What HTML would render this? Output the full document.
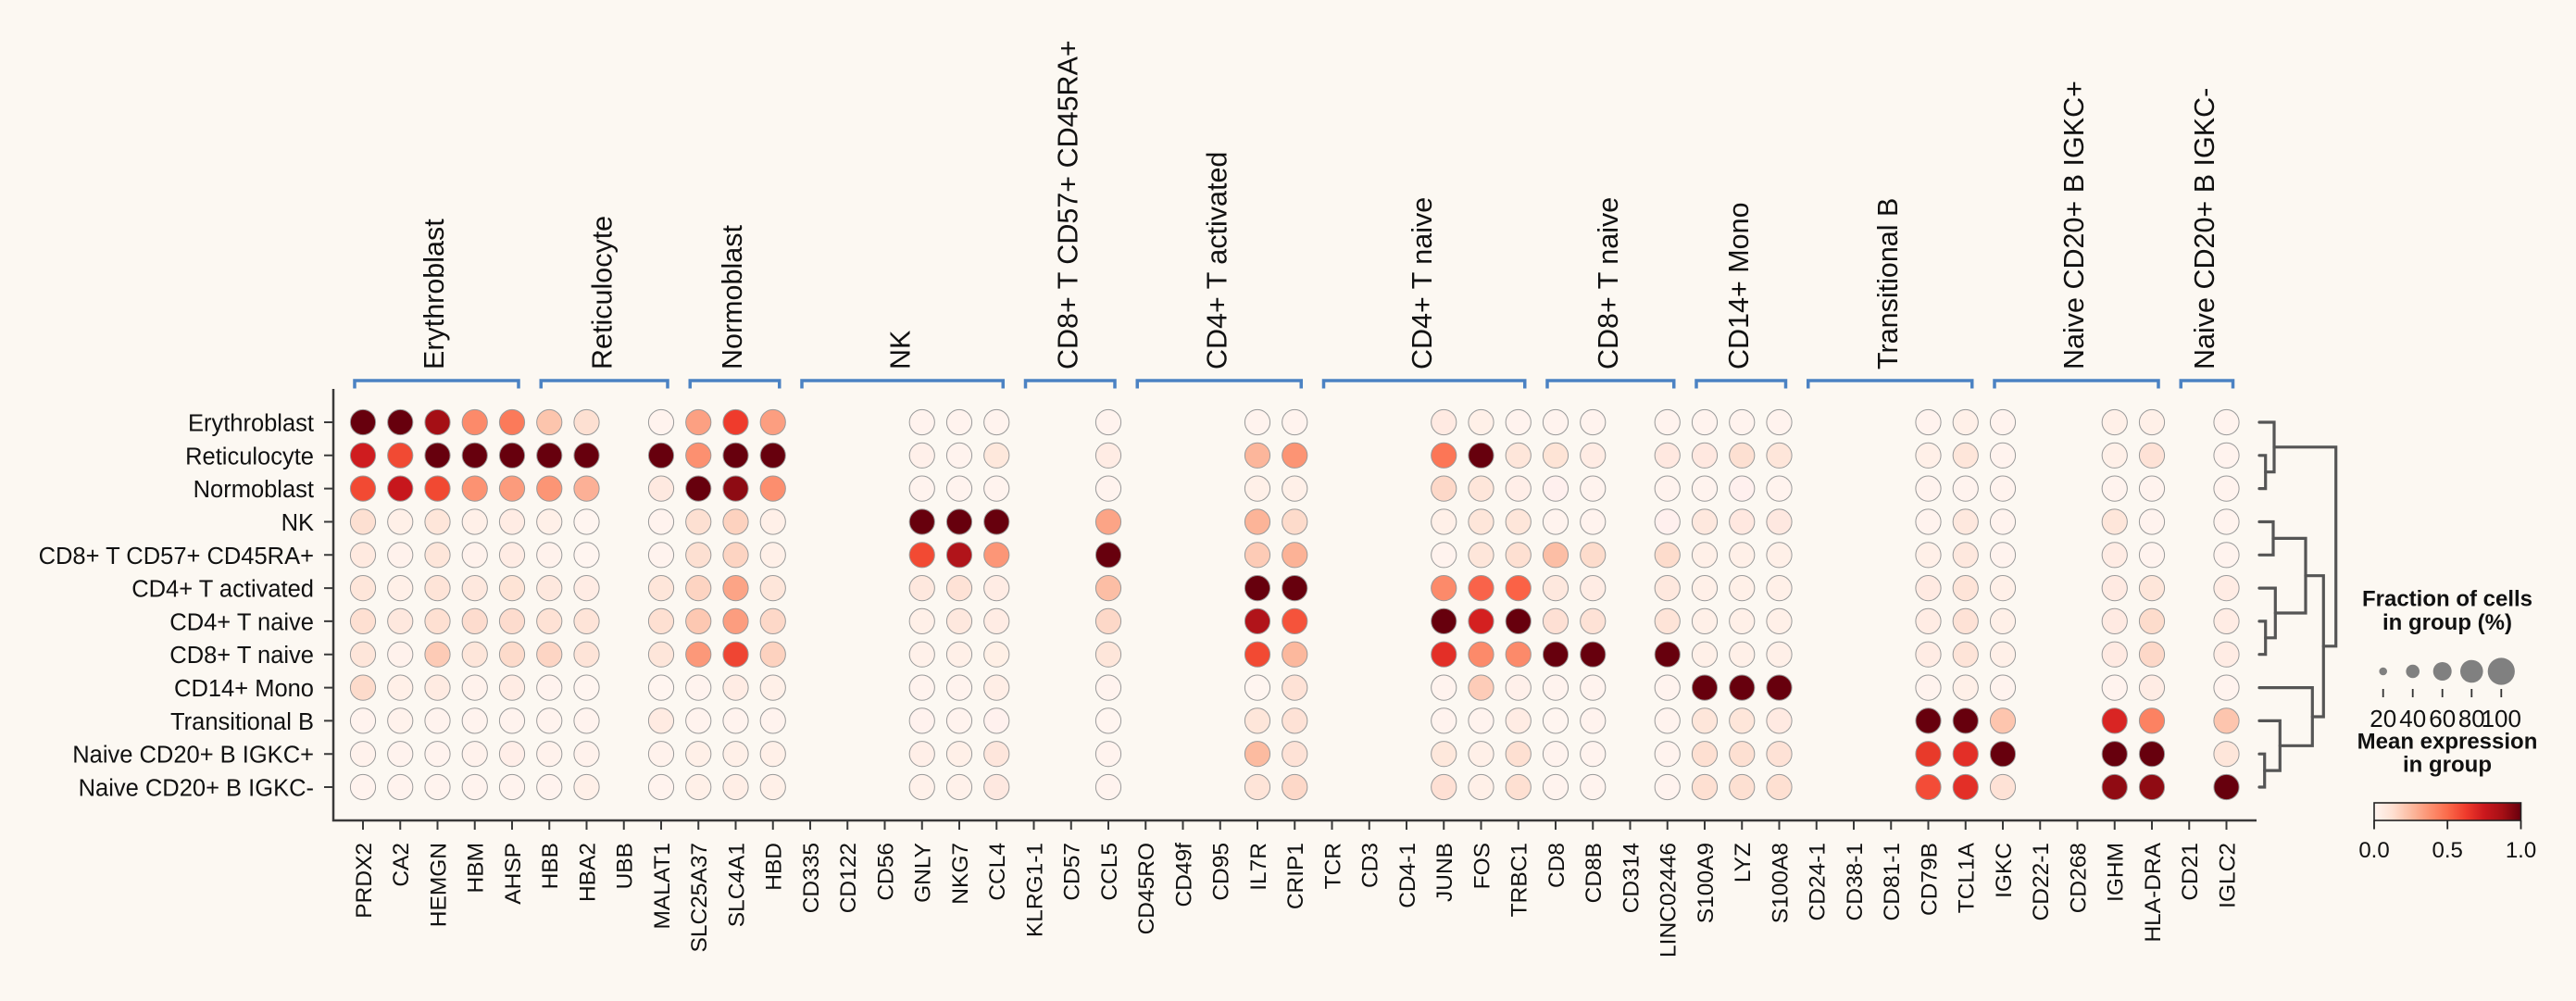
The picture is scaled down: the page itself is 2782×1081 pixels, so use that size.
<!DOCTYPE html>
<html><head><meta charset="utf-8"><style>
html,body{margin:0;padding:0;background:#fcf8f2;}
svg{display:block;font-family:"Liberation Sans",Arial,sans-serif;}
.m circle{stroke:#9a9a9a;stroke-width:1;}
.gl{font-size:24.5px;fill:#111;}
.rl{font-size:25.5px;fill:#111;}
.grp{font-size:30.5px;fill:#111;}
.br{fill:none;stroke:#4b82c3;stroke-width:3.5;}
.dn{fill:none;stroke:#555;stroke-width:3.2;stroke-linecap:round;}
</style></head><body>
<svg width="2782" height="1081" viewBox="0 0 2782 1081" xmlns="http://www.w3.org/2000/svg">
<rect width="2782" height="1081" fill="#fcf8f2"/>
<defs><linearGradient id="reds" x1="0" x2="1" y1="0" y2="0">
<stop offset="0" stop-color="#fff5f0"/><stop offset="0.125" stop-color="#fee0d2"/><stop offset="0.25" stop-color="#fcbba1"/><stop offset="0.375" stop-color="#fc9272"/><stop offset="0.5" stop-color="#fb6a4a"/><stop offset="0.625" stop-color="#ef3b2c"/><stop offset="0.75" stop-color="#cb181d"/><stop offset="0.875" stop-color="#a50f15"/><stop offset="1" stop-color="#67000d"/>
</linearGradient></defs>

<!-- group brackets -->
<g class="br">
<path d="M383 419.5V411H560V419.5"/>
<path d="M584.25 419.5V411H721V419.5"/>
<path d="M745.25 419.5V411H841.75V419.5"/>
<path d="M866 419.5V411H1083.25V419.5"/>
<path d="M1107.5 419.5V411H1204V419.5"/>
<path d="M1228.25 419.5V411H1405.25V419.5"/>
<path d="M1429.5 419.5V411H1646.75V419.5"/>
<path d="M1671 419.5V411H1807.75V419.5"/>
<path d="M1832 419.5V411H1928.5V419.5"/>
<path d="M1952.75 419.5V411H2129.75V419.5"/>
<path d="M2154 419.5V411H2331V419.5"/>
<path d="M2355.25 419.5V411H2411.5V419.5"/>
</g>
<!-- group labels -->
<g class="grp">
<text transform="translate(479.2,399) rotate(-90)">Erythroblast</text>
<text transform="translate(660.3,399) rotate(-90)">Reticulocyte</text>
<text transform="translate(801.2,399) rotate(-90)">Normoblast</text>
<text transform="translate(982.3,399) rotate(-90)">NK</text>
<text transform="translate(1163.5,399) rotate(-90)">CD8+ T CD57+ CD45RA+</text>
<text transform="translate(1324.5,399) rotate(-90)">CD4+ T activated</text>
<text transform="translate(1545.8,399) rotate(-90)">CD4+ T naive</text>
<text transform="translate(1747.1,399) rotate(-90)">CD8+ T naive</text>
<text transform="translate(1888,399) rotate(-90)">CD14+ Mono</text>
<text transform="translate(2049,399) rotate(-90)">Transitional B</text>
<text transform="translate(2250.2,399) rotate(-90)">Naive CD20+ B IGKC+</text>
<text transform="translate(2391.1,399) rotate(-90)">Naive CD20+ B IGKC-</text>
</g>

<!-- axes -->
<path d="M360 420V886H2437" fill="none" stroke="#3a3a3a" stroke-width="2.5"/>
<g stroke="#3a3a3a" stroke-width="2">
<path d="M350 456H360M350 491.8H360M350 527.6H360M350 563.5H360M350 599.3H360M350 635.1H360M350 670.9H360M350 706.7H360M350 742.6H360M350 778.4H360M350 814.2H360M350 850H360"/>
<path d="M392 886v10M432.25 886v10M472.5 886v10M512.75 886v10M553 886v10M593.25 886v10M633.5 886v10M673.75 886v10M714 886v10M754.25 886v10M794.5 886v10M834.75 886v10M875 886v10M915.25 886v10M955.5 886v10M995.75 886v10M1036 886v10M1076.25 886v10M1116.5 886v10M1156.75 886v10M1197 886v10M1237.25 886v10M1277.5 886v10M1317.75 886v10M1358 886v10M1398.25 886v10M1438.5 886v10M1478.75 886v10M1519 886v10M1559.25 886v10M1599.5 886v10M1639.75 886v10M1680 886v10M1720.25 886v10M1760.5 886v10M1800.75 886v10M1841 886v10M1881.25 886v10M1921.5 886v10M1961.75 886v10M2002 886v10M2042.25 886v10M2082.5 886v10M2122.75 886v10M2163 886v10M2203.25 886v10M2243.5 886v10M2283.75 886v10M2324 886v10M2364.25 886v10M2404.5 886v10"/>
</g>

<!-- row labels -->
<g class="rl" text-anchor="end">
<text x="339" y="465.5">Erythroblast</text>
<text x="339" y="501.3">Reticulocyte</text>
<text x="339" y="537.1">Normoblast</text>
<text x="339" y="573">NK</text>
<text x="339" y="608.8">CD8+ T CD57+ CD45RA+</text>
<text x="339" y="644.6">CD4+ T activated</text>
<text x="339" y="680.4">CD4+ T naive</text>
<text x="339" y="716.2">CD8+ T naive</text>
<text x="339" y="752.1">CD14+ Mono</text>
<text x="339" y="787.9">Transitional B</text>
<text x="339" y="823.7">Naive CD20+ B IGKC+</text>
<text x="339" y="859.5">Naive CD20+ B IGKC-</text>
</g>

<!-- gene labels -->
<g class="gl" text-anchor="end">
<text transform="translate(400.8,910) rotate(-90)">PRDX2</text>
<text transform="translate(441,910) rotate(-90)">CA2</text>
<text transform="translate(481.3,910) rotate(-90)">HEMGN</text>
<text transform="translate(521.5,910) rotate(-90)">HBM</text>
<text transform="translate(561.8,910) rotate(-90)">AHSP</text>
<text transform="translate(602,910) rotate(-90)">HBB</text>
<text transform="translate(642.3,910) rotate(-90)">HBA2</text>
<text transform="translate(682.5,910) rotate(-90)">UBB</text>
<text transform="translate(722.8,910) rotate(-90)">MALAT1</text>
<text transform="translate(763,910) rotate(-90)">SLC25A37</text>
<text transform="translate(803.3,910) rotate(-90)">SLC4A1</text>
<text transform="translate(843.5,910) rotate(-90)">HBD</text>
<text transform="translate(883.8,910) rotate(-90)">CD335</text>
<text transform="translate(924,910) rotate(-90)">CD122</text>
<text transform="translate(964.3,910) rotate(-90)">CD56</text>
<text transform="translate(1004.5,910) rotate(-90)">GNLY</text>
<text transform="translate(1044.8,910) rotate(-90)">NKG7</text>
<text transform="translate(1085,910) rotate(-90)">CCL4</text>
<text transform="translate(1125.3,910) rotate(-90)">KLRG1-1</text>
<text transform="translate(1165.5,910) rotate(-90)">CD57</text>
<text transform="translate(1205.8,910) rotate(-90)">CCL5</text>
<text transform="translate(1246,910) rotate(-90)">CD45RO</text>
<text transform="translate(1286.3,910) rotate(-90)">CD49f</text>
<text transform="translate(1326.5,910) rotate(-90)">CD95</text>
<text transform="translate(1366.8,910) rotate(-90)">IL7R</text>
<text transform="translate(1407,910) rotate(-90)">CRIP1</text>
<text transform="translate(1447.3,910) rotate(-90)">TCR</text>
<text transform="translate(1487.5,910) rotate(-90)">CD3</text>
<text transform="translate(1527.8,910) rotate(-90)">CD4-1</text>
<text transform="translate(1568,910) rotate(-90)">JUNB</text>
<text transform="translate(1608.3,910) rotate(-90)">FOS</text>
<text transform="translate(1648.5,910) rotate(-90)">TRBC1</text>
<text transform="translate(1688.8,910) rotate(-90)">CD8</text>
<text transform="translate(1729,910) rotate(-90)">CD8B</text>
<text transform="translate(1769.3,910) rotate(-90)">CD314</text>
<text transform="translate(1809.5,910) rotate(-90)">LINC02446</text>
<text transform="translate(1849.8,910) rotate(-90)">S100A9</text>
<text transform="translate(1890,910) rotate(-90)">LYZ</text>
<text transform="translate(1930.3,910) rotate(-90)">S100A8</text>
<text transform="translate(1970.5,910) rotate(-90)">CD24-1</text>
<text transform="translate(2010.8,910) rotate(-90)">CD38-1</text>
<text transform="translate(2051,910) rotate(-90)">CD81-1</text>
<text transform="translate(2091.3,910) rotate(-90)">CD79B</text>
<text transform="translate(2131.5,910) rotate(-90)">TCL1A</text>
<text transform="translate(2171.8,910) rotate(-90)">IGKC</text>
<text transform="translate(2212,910) rotate(-90)">CD22-1</text>
<text transform="translate(2252.3,910) rotate(-90)">CD268</text>
<text transform="translate(2292.5,910) rotate(-90)">IGHM</text>
<text transform="translate(2332.8,910) rotate(-90)">HLA-DRA</text>
<text transform="translate(2373,910) rotate(-90)">CD21</text>
<text transform="translate(2413.3,910) rotate(-90)">IGLC2</text>
</g>

<!-- dots -->
<g class="m">
<g transform="translate(392,0)"><circle cy="456" r="13.6" fill="#67000d"/><circle cy="491.8" r="13.6" fill="#cf1c1f"/><circle cy="527.6" r="13.6" fill="#f24a33"/><circle cy="563.5" r="13.6" fill="#fde0d2"/><circle cy="599.3" r="13.6" fill="#ffeae0"/><circle cy="635.1" r="13.6" fill="#fee6da"/><circle cy="670.9" r="13.6" fill="#fee0d2"/><circle cy="706.7" r="13.6" fill="#fee6da"/><circle cy="742.6" r="13.6" fill="#fddbcb"/><circle cy="778.4" r="13.6" fill="#fff3ee"/><circle cy="814.2" r="13.6" fill="#fff2ec"/><circle cy="850" r="13.6" fill="#fff3ee"/></g>
<g transform="translate(432.25,0)"><circle cy="456" r="13.6" fill="#67000d"/><circle cy="491.8" r="13.6" fill="#f14a33"/><circle cy="527.6" r="13.6" fill="#c7171c"/><circle cy="563.5" r="13.6" fill="#fff0e8"/><circle cy="599.3" r="13.6" fill="#fff2ec"/><circle cy="635.1" r="13.6" fill="#fff0e8"/><circle cy="670.9" r="13.6" fill="#fee8de"/><circle cy="706.7" r="13.6" fill="#fff2ec"/><circle cy="742.6" r="13.6" fill="#fff0e8"/><circle cy="778.4" r="13.6" fill="#fff2ec"/><circle cy="814.2" r="13.6" fill="#fff3ee"/><circle cy="850" r="13.6" fill="#fff3ee"/></g>
<g transform="translate(472.5,0)"><circle cy="456" r="13.6" fill="#a50f15"/><circle cy="491.8" r="13.6" fill="#67000d"/><circle cy="527.6" r="13.6" fill="#f14932"/><circle cy="563.5" r="13.6" fill="#fee6da"/><circle cy="599.3" r="13.6" fill="#fee6da"/><circle cy="635.1" r="13.6" fill="#fee4d8"/><circle cy="670.9" r="13.6" fill="#fee0d2"/><circle cy="706.7" r="13.6" fill="#fdcbb6"/><circle cy="742.6" r="13.6" fill="#ffebe2"/><circle cy="778.4" r="13.6" fill="#fff3ee"/><circle cy="814.2" r="13.6" fill="#fff3ee"/><circle cy="850" r="13.6" fill="#fff3ee"/></g>
<g transform="translate(512.75,0)"><circle cy="456" r="13.6" fill="#fc8a6a"/><circle cy="491.8" r="13.6" fill="#67000d"/><circle cy="527.6" r="13.6" fill="#fc9272"/><circle cy="563.5" r="13.6" fill="#fff0e8"/><circle cy="599.3" r="13.6" fill="#fff2ec"/><circle cy="635.1" r="13.6" fill="#fee8de"/><circle cy="670.9" r="13.6" fill="#fddcce"/><circle cy="706.7" r="13.6" fill="#fee6da"/><circle cy="742.6" r="13.6" fill="#fff2ec"/><circle cy="778.4" r="13.6" fill="#fff3ee"/><circle cy="814.2" r="13.6" fill="#fff2ec"/><circle cy="850" r="13.6" fill="#fff3ee"/></g>
<g transform="translate(553,0)"><circle cy="456" r="13.6" fill="#fb7a5a"/><circle cy="491.8" r="13.6" fill="#67000d"/><circle cy="527.6" r="13.6" fill="#fc9b7c"/><circle cy="563.5" r="13.6" fill="#ffece4"/><circle cy="599.3" r="13.6" fill="#ffece4"/><circle cy="635.1" r="13.6" fill="#fee4d6"/><circle cy="670.9" r="13.6" fill="#fddcce"/><circle cy="706.7" r="13.6" fill="#fddbcb"/><circle cy="742.6" r="13.6" fill="#ffece4"/><circle cy="778.4" r="13.6" fill="#fff3ee"/><circle cy="814.2" r="13.6" fill="#ffeee8"/><circle cy="850" r="13.6" fill="#fff3ee"/></g>
<g transform="translate(593.25,0)"><circle cy="456" r="13.6" fill="#fcc5ad"/><circle cy="491.8" r="13.6" fill="#67000d"/><circle cy="527.6" r="13.6" fill="#fc9575"/><circle cy="563.5" r="13.6" fill="#fff0e8"/><circle cy="599.3" r="13.6" fill="#fff2ec"/><circle cy="635.1" r="13.6" fill="#fee8de"/><circle cy="670.9" r="13.6" fill="#fee2d5"/><circle cy="706.7" r="13.6" fill="#fdd5c4"/><circle cy="742.6" r="13.6" fill="#fff3ee"/><circle cy="778.4" r="13.6" fill="#fff3ee"/><circle cy="814.2" r="13.6" fill="#fff2ec"/><circle cy="850" r="13.6" fill="#fff3ee"/></g>
<g transform="translate(633.5,0)"><circle cy="456" r="13.6" fill="#fde0d2"/><circle cy="491.8" r="13.6" fill="#67000d"/><circle cy="527.6" r="13.6" fill="#fcb096"/><circle cy="563.5" r="13.6" fill="#fff5f0"/><circle cy="599.3" r="13.6" fill="#fff5f0"/><circle cy="635.1" r="13.6" fill="#ffece4"/><circle cy="670.9" r="13.6" fill="#fee4d8"/><circle cy="706.7" r="13.6" fill="#fee4d8"/><circle cy="742.6" r="13.6" fill="#fff5f0"/><circle cy="778.4" r="13.6" fill="#fff3ee"/><circle cy="814.2" r="13.6" fill="#fff2ec"/><circle cy="850" r="13.6" fill="#fff0e8"/></g>
<g transform="translate(714,0)"><circle cy="456" r="13.6" fill="#fff3ee"/><circle cy="491.8" r="13.6" fill="#67000d"/><circle cy="527.6" r="13.6" fill="#fee9e0"/><circle cy="563.5" r="13.6" fill="#fff3ee"/><circle cy="599.3" r="13.6" fill="#fff3ee"/><circle cy="635.1" r="13.6" fill="#fee6da"/><circle cy="670.9" r="13.6" fill="#fee0d2"/><circle cy="706.7" r="13.6" fill="#fee6da"/><circle cy="742.6" r="13.6" fill="#fff5f0"/><circle cy="778.4" r="13.6" fill="#ffebe2"/><circle cy="814.2" r="13.6" fill="#fff2ec"/><circle cy="850" r="13.6" fill="#fff3ee"/></g>
<g transform="translate(754.25,0)"><circle cy="456" r="13.6" fill="#fca082"/><circle cy="491.8" r="13.6" fill="#fc9070"/><circle cy="527.6" r="13.6" fill="#67000d"/><circle cy="563.5" r="13.6" fill="#fde0d2"/><circle cy="599.3" r="13.6" fill="#fde0d2"/><circle cy="635.1" r="13.6" fill="#fdd4c2"/><circle cy="670.9" r="13.6" fill="#fdc8b2"/><circle cy="706.7" r="13.6" fill="#fc9879"/><circle cy="742.6" r="13.6" fill="#fff3ee"/><circle cy="778.4" r="13.6" fill="#fff3ee"/><circle cy="814.2" r="13.6" fill="#fff0e8"/><circle cy="850" r="13.6" fill="#fff0e8"/></g>
<g transform="translate(794.5,0)"><circle cy="456" r="13.6" fill="#ef3b2c"/><circle cy="491.8" r="13.6" fill="#67000d"/><circle cy="527.6" r="13.6" fill="#8e0b13"/><circle cy="563.5" r="13.6" fill="#fdd2bf"/><circle cy="599.3" r="13.6" fill="#fdd4c2"/><circle cy="635.1" r="13.6" fill="#fca486"/><circle cy="670.9" r="13.6" fill="#fc9d7f"/><circle cy="706.7" r="13.6" fill="#ef4533"/><circle cy="742.6" r="13.6" fill="#ffece4"/><circle cy="778.4" r="13.6" fill="#fff3ee"/><circle cy="814.2" r="13.6" fill="#fff0e8"/><circle cy="850" r="13.6" fill="#ffeee6"/></g>
<g transform="translate(834.75,0)"><circle cy="456" r="13.6" fill="#fc9e80"/><circle cy="491.8" r="13.6" fill="#67000d"/><circle cy="527.6" r="13.6" fill="#fc8e6e"/><circle cy="563.5" r="13.6" fill="#fff0e8"/><circle cy="599.3" r="13.6" fill="#fff0e8"/><circle cy="635.1" r="13.6" fill="#fee6da"/><circle cy="670.9" r="13.6" fill="#fdd8c8"/><circle cy="706.7" r="13.6" fill="#fdd2bf"/><circle cy="742.6" r="13.6" fill="#fff0e8"/><circle cy="778.4" r="13.6" fill="#fff3ee"/><circle cy="814.2" r="13.6" fill="#fff0e8"/><circle cy="850" r="13.6" fill="#fff0e8"/></g>
<g transform="translate(995.75,0)"><circle cy="456" r="13.6" fill="#fff3ee"/><circle cy="491.8" r="13.6" fill="#fff0ea"/><circle cy="527.6" r="13.6" fill="#fff3ee"/><circle cy="563.5" r="13.6" fill="#67000d"/><circle cy="599.3" r="13.6" fill="#f24a33"/><circle cy="635.1" r="13.6" fill="#fee8de"/><circle cy="670.9" r="13.6" fill="#fff0e8"/><circle cy="706.7" r="13.6" fill="#fff1ea"/><circle cy="742.6" r="13.6" fill="#fff3ee"/><circle cy="778.4" r="13.6" fill="#fff2ee"/><circle cy="814.2" r="13.6" fill="#ffefe8"/><circle cy="850" r="13.6" fill="#fff1ea"/></g>
<g transform="translate(1036,0)"><circle cy="456" r="13.6" fill="#fff3ee"/><circle cy="491.8" r="13.6" fill="#fff3ee"/><circle cy="527.6" r="13.6" fill="#fff3ee"/><circle cy="563.5" r="13.6" fill="#67000d"/><circle cy="599.3" r="13.6" fill="#b1141a"/><circle cy="635.1" r="13.6" fill="#fee2d6"/><circle cy="670.9" r="13.6" fill="#fee8de"/><circle cy="706.7" r="13.6" fill="#fff0e8"/><circle cy="742.6" r="13.6" fill="#fff3ee"/><circle cy="778.4" r="13.6" fill="#fff3ee"/><circle cy="814.2" r="13.6" fill="#fff0e8"/><circle cy="850" r="13.6" fill="#fff1ea"/></g>
<g transform="translate(1076.25,0)"><circle cy="456" r="13.6" fill="#fff3ee"/><circle cy="491.8" r="13.6" fill="#fee8dc"/><circle cy="527.6" r="13.6" fill="#fff3ee"/><circle cy="563.5" r="13.6" fill="#67000d"/><circle cy="599.3" r="13.6" fill="#fc9677"/><circle cy="635.1" r="13.6" fill="#ffece4"/><circle cy="670.9" r="13.6" fill="#ffece4"/><circle cy="706.7" r="13.6" fill="#fff0e6"/><circle cy="742.6" r="13.6" fill="#ffeee6"/><circle cy="778.4" r="13.6" fill="#fff1ee"/><circle cy="814.2" r="13.6" fill="#fee6dc"/><circle cy="850" r="13.6" fill="#fee8e0"/></g>
<g transform="translate(1197,0)"><circle cy="456" r="13.6" fill="#fff3ee"/><circle cy="491.8" r="13.6" fill="#ffece4"/><circle cy="527.6" r="13.6" fill="#fff3ee"/><circle cy="563.5" r="13.6" fill="#fca486"/><circle cy="599.3" r="13.6" fill="#67000d"/><circle cy="635.1" r="13.6" fill="#fcbea5"/><circle cy="670.9" r="13.6" fill="#fdd8c8"/><circle cy="706.7" r="13.6" fill="#fee6da"/><circle cy="742.6" r="13.6" fill="#fff3ee"/><circle cy="778.4" r="13.6" fill="#fff5f0"/><circle cy="814.2" r="13.6" fill="#fff3ee"/><circle cy="850" r="13.6" fill="#fff3ee"/></g>
<g transform="translate(1358,0)"><circle cy="456" r="13.6" fill="#fff3ee"/><circle cy="491.8" r="13.6" fill="#fcb69b"/><circle cy="527.6" r="13.6" fill="#fff0e8"/><circle cy="563.5" r="13.6" fill="#fcb498"/><circle cy="599.3" r="13.6" fill="#fdcbb6"/><circle cy="635.1" r="13.6" fill="#67000d"/><circle cy="670.9" r="13.6" fill="#b1141a"/><circle cy="706.7" r="13.6" fill="#f24a33"/><circle cy="742.6" r="13.6" fill="#fff5f0"/><circle cy="778.4" r="13.6" fill="#fee6da"/><circle cy="814.2" r="13.6" fill="#fcbba0"/><circle cy="850" r="13.6" fill="#fee4d8"/></g>
<g transform="translate(1398.25,0)"><circle cy="456" r="13.6" fill="#fff3ee"/><circle cy="491.8" r="13.6" fill="#fc9474"/><circle cy="527.6" r="13.6" fill="#fff0e8"/><circle cy="563.5" r="13.6" fill="#fddbcb"/><circle cy="599.3" r="13.6" fill="#fcb296"/><circle cy="635.1" r="13.6" fill="#67000d"/><circle cy="670.9" r="13.6" fill="#f5533b"/><circle cy="706.7" r="13.6" fill="#fcb89d"/><circle cy="742.6" r="13.6" fill="#fee2d6"/><circle cy="778.4" r="13.6" fill="#fee2d6"/><circle cy="814.2" r="13.6" fill="#fee2d6"/><circle cy="850" r="13.6" fill="#fdd8c8"/></g>
<g transform="translate(1559.25,0)"><circle cy="456" r="13.6" fill="#ffeae2"/><circle cy="491.8" r="13.6" fill="#fc7656"/><circle cy="527.6" r="13.6" fill="#fdd8c8"/><circle cy="563.5" r="13.6" fill="#fff0e8"/><circle cy="599.3" r="13.6" fill="#fff3ee"/><circle cy="635.1" r="13.6" fill="#fc8a6a"/><circle cy="670.9" r="13.6" fill="#67000d"/><circle cy="706.7" r="13.6" fill="#e32f27"/><circle cy="742.6" r="13.6" fill="#fff3ee"/><circle cy="778.4" r="13.6" fill="#fff3ee"/><circle cy="814.2" r="13.6" fill="#fee8dc"/><circle cy="850" r="13.6" fill="#fee0d4"/></g>
<g transform="translate(1599.5,0)"><circle cy="456" r="13.6" fill="#fff0e8"/><circle cy="491.8" r="13.6" fill="#67000d"/><circle cy="527.6" r="13.6" fill="#fee6da"/><circle cy="563.5" r="13.6" fill="#fee6da"/><circle cy="599.3" r="13.6" fill="#fee6da"/><circle cy="635.1" r="13.6" fill="#f9634a"/><circle cy="670.9" r="13.6" fill="#d42020"/><circle cy="706.7" r="13.6" fill="#fc8a6a"/><circle cy="742.6" r="13.6" fill="#fdccb8"/><circle cy="778.4" r="13.6" fill="#fff3ee"/><circle cy="814.2" r="13.6" fill="#fff0e8"/><circle cy="850" r="13.6" fill="#fff0e8"/></g>
<g transform="translate(1639.75,0)"><circle cy="456" r="13.6" fill="#fff3ee"/><circle cy="491.8" r="13.6" fill="#fee6da"/><circle cy="527.6" r="13.6" fill="#ffeee8"/><circle cy="563.5" r="13.6" fill="#fee6da"/><circle cy="599.3" r="13.6" fill="#fee0d2"/><circle cy="635.1" r="13.6" fill="#fb6246"/><circle cy="670.9" r="13.6" fill="#67000d"/><circle cy="706.7" r="13.6" fill="#fc8a6a"/><circle cy="742.6" r="13.6" fill="#fff0ea"/><circle cy="778.4" r="13.6" fill="#ffece4"/><circle cy="814.2" r="13.6" fill="#fee0d2"/><circle cy="850" r="13.6" fill="#fee0d2"/></g>
<g transform="translate(1680,0)"><circle cy="456" r="13.6" fill="#fff3ee"/><circle cy="491.8" r="13.6" fill="#fee4d6"/><circle cy="527.6" r="13.6" fill="#fff0ee"/><circle cy="563.5" r="13.6" fill="#fff3ee"/><circle cy="599.3" r="13.6" fill="#fcbea5"/><circle cy="635.1" r="13.6" fill="#fee8de"/><circle cy="670.9" r="13.6" fill="#fee0d4"/><circle cy="706.7" r="13.6" fill="#67000d"/><circle cy="742.6" r="13.6" fill="#fff3ee"/><circle cy="778.4" r="13.6" fill="#fff5f0"/><circle cy="814.2" r="13.6" fill="#fff3ee"/><circle cy="850" r="13.6" fill="#fff3ee"/></g>
<g transform="translate(1720.25,0)"><circle cy="456" r="13.6" fill="#fff3ee"/><circle cy="491.8" r="13.6" fill="#ffece4"/><circle cy="527.6" r="13.6" fill="#fff3ee"/><circle cy="563.5" r="13.6" fill="#fff3ee"/><circle cy="599.3" r="13.6" fill="#fddccc"/><circle cy="635.1" r="13.6" fill="#ffece4"/><circle cy="670.9" r="13.6" fill="#fee2d6"/><circle cy="706.7" r="13.6" fill="#67000d"/><circle cy="742.6" r="13.6" fill="#fff3ee"/><circle cy="778.4" r="13.6" fill="#fff3ee"/><circle cy="814.2" r="13.6" fill="#fff3ee"/><circle cy="850" r="13.6" fill="#fff3ee"/></g>
<g transform="translate(1800.75,0)"><circle cy="456" r="13.6" fill="#fff3ee"/><circle cy="491.8" r="13.6" fill="#ffe8e0"/><circle cy="527.6" r="13.6" fill="#fff3ee"/><circle cy="563.5" r="13.6" fill="#fff0ee"/><circle cy="599.3" r="13.6" fill="#fddccc"/><circle cy="635.1" r="13.6" fill="#fee8de"/><circle cy="670.9" r="13.6" fill="#fee4d8"/><circle cy="706.7" r="13.6" fill="#67000d"/><circle cy="742.6" r="13.6" fill="#fff3ee"/><circle cy="778.4" r="13.6" fill="#fff3ee"/><circle cy="814.2" r="13.6" fill="#fff3ee"/><circle cy="850" r="13.6" fill="#fff3ee"/></g>
<g transform="translate(1841,0)"><circle cy="456" r="13.6" fill="#fff3ee"/><circle cy="491.8" r="13.6" fill="#ffe8e0"/><circle cy="527.6" r="13.6" fill="#fff3ee"/><circle cy="563.5" r="13.6" fill="#fee8de"/><circle cy="599.3" r="13.6" fill="#fff0e8"/><circle cy="635.1" r="13.6" fill="#fff0e8"/><circle cy="670.9" r="13.6" fill="#fff0e8"/><circle cy="706.7" r="13.6" fill="#fff0e8"/><circle cy="742.6" r="13.6" fill="#67000d"/><circle cy="778.4" r="13.6" fill="#fee6da"/><circle cy="814.2" r="13.6" fill="#fee0d2"/><circle cy="850" r="13.6" fill="#fee0d2"/></g>
<g transform="translate(1881.25,0)"><circle cy="456" r="13.6" fill="#fff3ee"/><circle cy="491.8" r="13.6" fill="#fde0d2"/><circle cy="527.6" r="13.6" fill="#fff0ee"/><circle cy="563.5" r="13.6" fill="#ffe8e0"/><circle cy="599.3" r="13.6" fill="#fff0e8"/><circle cy="635.1" r="13.6" fill="#fff0e8"/><circle cy="670.9" r="13.6" fill="#fff0e8"/><circle cy="706.7" r="13.6" fill="#fff0e8"/><circle cy="742.6" r="13.6" fill="#67000d"/><circle cy="778.4" r="13.6" fill="#fee6da"/><circle cy="814.2" r="13.6" fill="#fde0d2"/><circle cy="850" r="13.6" fill="#fde0d2"/></g>
<g transform="translate(1921.5,0)"><circle cy="456" r="13.6" fill="#fff3ee"/><circle cy="491.8" r="13.6" fill="#fee6da"/><circle cy="527.6" r="13.6" fill="#fff3ee"/><circle cy="563.5" r="13.6" fill="#fee8e0"/><circle cy="599.3" r="13.6" fill="#fff0e8"/><circle cy="635.1" r="13.6" fill="#fff0e8"/><circle cy="670.9" r="13.6" fill="#fff0e8"/><circle cy="706.7" r="13.6" fill="#fff0e8"/><circle cy="742.6" r="13.6" fill="#67000d"/><circle cy="778.4" r="13.6" fill="#ffeae2"/><circle cy="814.2" r="13.6" fill="#fee2d6"/><circle cy="850" r="13.6" fill="#fee0d2"/></g>
<g transform="translate(2082.5,0)"><circle cy="456" r="13.6" fill="#fff3ee"/><circle cy="491.8" r="13.6" fill="#fff0e8"/><circle cy="527.6" r="13.6" fill="#fff3ee"/><circle cy="563.5" r="13.6" fill="#fff3ee"/><circle cy="599.3" r="13.6" fill="#fff0e8"/><circle cy="635.1" r="13.6" fill="#ffeae2"/><circle cy="670.9" r="13.6" fill="#ffece4"/><circle cy="706.7" r="13.6" fill="#ffece4"/><circle cy="742.6" r="13.6" fill="#fff3ee"/><circle cy="778.4" r="13.6" fill="#67000d"/><circle cy="814.2" r="13.6" fill="#e83a2a"/><circle cy="850" r="13.6" fill="#f34c37"/></g>
<g transform="translate(2122.75,0)"><circle cy="456" r="13.6" fill="#fff0e8"/><circle cy="491.8" r="13.6" fill="#fee6da"/><circle cy="527.6" r="13.6" fill="#fff3ee"/><circle cy="563.5" r="13.6" fill="#fee8de"/><circle cy="599.3" r="13.6" fill="#fee8de"/><circle cy="635.1" r="13.6" fill="#fee4d8"/><circle cy="670.9" r="13.6" fill="#fee2d6"/><circle cy="706.7" r="13.6" fill="#fee4d8"/><circle cy="742.6" r="13.6" fill="#fff0e8"/><circle cy="778.4" r="13.6" fill="#67000d"/><circle cy="814.2" r="13.6" fill="#e32f27"/><circle cy="850" r="13.6" fill="#e32f27"/></g>
<g transform="translate(2163,0)"><circle cy="456" r="13.6" fill="#fff3ee"/><circle cy="491.8" r="13.6" fill="#fff3ee"/><circle cy="527.6" r="13.6" fill="#fff3ee"/><circle cy="563.5" r="13.6" fill="#fff3ee"/><circle cy="599.3" r="13.6" fill="#fff3ee"/><circle cy="635.1" r="13.6" fill="#fff0e8"/><circle cy="670.9" r="13.6" fill="#fff0e8"/><circle cy="706.7" r="13.6" fill="#fff0e8"/><circle cy="742.6" r="13.6" fill="#fff3ee"/><circle cy="778.4" r="13.6" fill="#fdc5ae"/><circle cy="814.2" r="13.6" fill="#67000d"/><circle cy="850" r="13.6" fill="#fee2d6"/></g>
<g transform="translate(2283.75,0)"><circle cy="456" r="13.6" fill="#fff0e8"/><circle cy="491.8" r="13.6" fill="#fff0e8"/><circle cy="527.6" r="13.6" fill="#fff3ee"/><circle cy="563.5" r="13.6" fill="#fee6da"/><circle cy="599.3" r="13.6" fill="#ffece4"/><circle cy="635.1" r="13.6" fill="#ffeae2"/><circle cy="670.9" r="13.6" fill="#ffeae2"/><circle cy="706.7" r="13.6" fill="#ffeae2"/><circle cy="742.6" r="13.6" fill="#fff3ee"/><circle cy="778.4" r="13.6" fill="#d92523"/><circle cy="814.2" r="13.6" fill="#67000d"/><circle cy="850" r="13.6" fill="#900b13"/></g>
<g transform="translate(2324,0)"><circle cy="456" r="13.6" fill="#fff0e8"/><circle cy="491.8" r="13.6" fill="#fee2d6"/><circle cy="527.6" r="13.6" fill="#fff3ee"/><circle cy="563.5" r="13.6" fill="#fff3ee"/><circle cy="599.3" r="13.6" fill="#fff3ee"/><circle cy="635.1" r="13.6" fill="#fee6da"/><circle cy="670.9" r="13.6" fill="#fddccc"/><circle cy="706.7" r="13.6" fill="#fdd8c8"/><circle cy="742.6" r="13.6" fill="#ffece4"/><circle cy="778.4" r="13.6" fill="#fc8262"/><circle cy="814.2" r="13.6" fill="#67000d"/><circle cy="850" r="13.6" fill="#900b13"/></g>
<g transform="translate(2404.5,0)"><circle cy="456" r="13.6" fill="#fff3ee"/><circle cy="491.8" r="13.6" fill="#fff3ee"/><circle cy="527.6" r="13.6" fill="#fff3ee"/><circle cy="563.5" r="13.6" fill="#fff3ee"/><circle cy="599.3" r="13.6" fill="#fff3ee"/><circle cy="635.1" r="13.6" fill="#ffece4"/><circle cy="670.9" r="13.6" fill="#ffece4"/><circle cy="706.7" r="13.6" fill="#ffece4"/><circle cy="742.6" r="13.6" fill="#fff3ee"/><circle cy="778.4" r="13.6" fill="#fdc5ae"/><circle cy="814.2" r="13.6" fill="#fee6da"/><circle cy="850" r="13.6" fill="#67000d"/></g>
</g>

<!-- dendrogram -->
<g class="dn">
<path d="M2440 491.8H2446.7V527.6H2440"/>
<path d="M2440 456H2456V509.7H2446.7"/>
<path d="M2440 563.5H2455V599.3H2440"/>
<path d="M2440 670.9H2446.7V706.7H2440"/>
<path d="M2440 635.1H2457.3V688.8H2446.7"/>
<path d="M2455 581.4H2490V662H2457.3"/>
<path d="M2440 814.2H2445.7V850H2440"/>
<path d="M2440 778.4H2462.3V832.1H2445.7"/>
<path d="M2440 742.6H2497.3V805.3H2462.3"/>
<path d="M2490 621.7H2509.3V774H2497.3"/>
<path d="M2456 482.8H2522.7V697.8H2509.3"/>
</g>

<!-- size legend -->
<g font-weight="bold" font-size="24px" fill="#111" text-anchor="middle">
<text x="2643" y="654.5">Fraction of cells</text>
<text x="2643" y="680">in group (%)</text>
<text x="2643" y="808.5">Mean expression</text>
<text x="2643" y="833.5">in group</text>
</g>
<g fill="#808080">
<circle cx="2573.7" cy="725" r="4.3"/>
<circle cx="2605.7" cy="725" r="7.3"/>
<circle cx="2637.7" cy="725" r="10"/>
<circle cx="2669.3" cy="725" r="12.3"/>
<circle cx="2701.3" cy="725" r="14.6"/>
</g>
<path d="M2573.7 744v9M2605.7 744v9M2637.7 744v9M2669.3 744v9M2701.3 744v9" stroke="#333" stroke-width="1.8"/>
<g font-size="26px" fill="#111" text-anchor="middle">
<text x="2573.7" y="785">20</text>
<text x="2605.7" y="785">40</text>
<text x="2637.7" y="785">60</text>
<text x="2669.3" y="785">80</text>
<text x="2701.3" y="785">100</text>
</g>

<!-- colorbar -->
<rect x="2564" y="867" width="158.5" height="19" fill="url(#reds)" stroke="#222" stroke-width="1.6"/>
<path d="M2564 886v9.5M2643.2 886v9.5M2722.5 886v9.5" stroke="#222" stroke-width="1.8"/>
<g font-size="24px" fill="#111" text-anchor="middle">
<text x="2564" y="926">0.0</text>
<text x="2643.2" y="926">0.5</text>
<text x="2722.5" y="926">1.0</text>
</g>
</svg>
</body></html>
